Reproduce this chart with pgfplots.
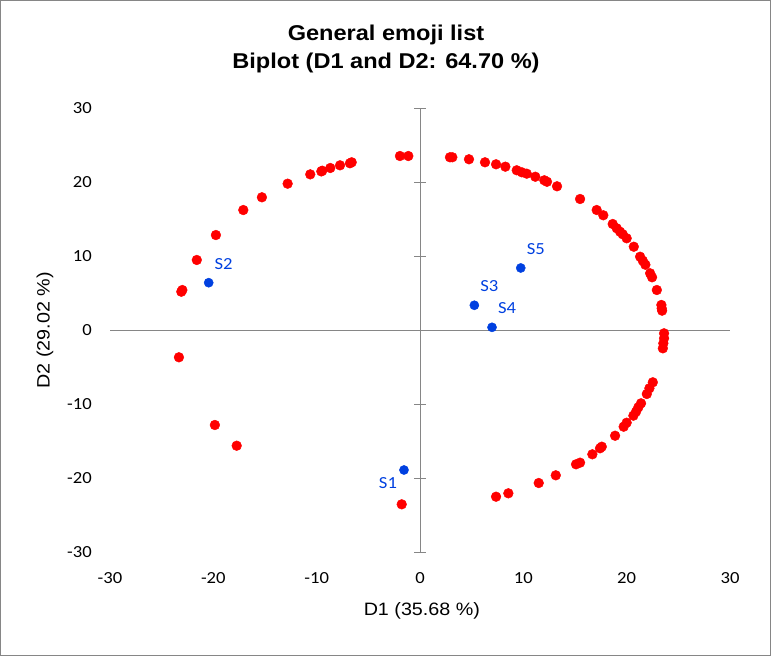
\documentclass[border=0pt]{standalone}
\usepackage{pgfplots}
\pgfplotsset{compat=1.18}
\usepackage{fontspec}
\setmainfont{Liberation Sans}[FakeStretch=1.1]
\newfontfamily\calfont{Carlito}[FakeStretch=1.1]

\definecolor{ptred}{RGB}{255,0,0}
\definecolor{ptblue}{RGB}{0,64,224}
\definecolor{axgray}{RGB}{134,134,134}

\begin{document}
\begin{tikzpicture}
\path[use as bounding box] (0,0) rectangle (771bp,656bp);
\draw[axgray, line width=1bp] (0.5bp,0.5bp) rectangle (770.5bp,655.5bp);

% Chart title
\node[font=\bfseries\fontsize{21.5}{28}\selectfont, align=center] at (386bp,607bp)
  {General emoji list\\Biplot (D1 and D2: 64.70 \%)};

\begin{axis}[
  at={(110bp,103.5bp)}, anchor=south west,
  scale only axis, width=620bp, height=444bp,
  xmin=-30, xmax=30, ymin=-30, ymax=30,
  clip=false,
  axis line style={draw=none},
  tick style={draw=none},
  xtick={-30,-20,...,30},
  ytick={-30,-20,...,30},
  xticklabels={-30,-20,-10,0,10,20,30},
  yticklabels={-30,-20,-10,0,10,20,30},
  ticklabel style={font=\calfont\fontsize{17}{17}\selectfont, inner sep=0pt},
  xticklabel style={anchor=center, yshift=-26bp},
  yticklabel style={anchor=east, xshift=-18bp},
  xlabel={D1 (35.68 \%)},
  ylabel={D2 (29.02 \%)},
  label style={font=\fontsize{18}{18}\selectfont},
  xlabel style={at={(axis description cs:0.503,-0.1318)}, anchor=center},
  ylabel style={at={(axis description cs:-0.1048,0.5)}, anchor=center},
]
% Axes through the origin, with cross ticks on the vertical one
\draw[axgray, line width=1bp] (axis cs:-30,0) -- (axis cs:30,0);
\draw[axgray, line width=1bp] (axis cs:0,-30) -- (axis cs:0,30);
\pgfplotsinvokeforeach{-30,-20,-10,0,10,20,30}{
  \draw[axgray, line width=1bp] ([xshift=-6bp]axis cs:0,#1) -- ([xshift=6bp]axis cs:0,#1);
}

% Variables (emoji)
\addplot[only marks, mark=*, mark size=4.9bp, color=ptred, mark options={draw=ptred, fill=ptred}]
  table[row sep=\\] {
x y\\
-1.94 23.58\\ -1.13 23.58\\ -6.61 22.73\\ -6.78 22.60\\ -7.74 22.32\\
-8.68 21.96\\ -9.46 21.59\\ -9.55 21.50\\ -10.62 21.10\\ -12.81 19.84\\
-15.30 18.00\\ -17.10 16.28\\ -19.75 12.90\\ -21.60 9.53\\ -23.00 5.47\\
-23.10 5.24\\ -23.33 -3.62\\ -19.85 -12.77\\ -17.74 -15.57\\ -1.77 -23.49\\
3.13 23.41\\ 2.90 23.41\\ 4.74 23.14\\ 6.29 22.73\\ 7.36 22.46\\
8.26 22.14\\ 9.36 21.65\\ 9.85 21.38\\ 10.33 21.19\\ 11.16 20.78\\
12.03 20.30\\ 12.29 20.10\\ 13.26 19.49\\ 15.49 17.77\\ 17.10 16.28\\
17.74 15.57\\ 18.65 14.39\\ 19.04 13.81\\ 19.36 13.35\\ 19.62 13.00\\
20.00 12.46\\ 20.69 11.32\\ 21.30 9.97\\ 21.56 9.43\\ 21.81 8.89\\
22.27 7.73\\ 22.46 7.19\\ 22.92 5.47\\ 23.36 3.45\\ 23.39 3.00\\
23.43 2.68\\ 23.62 -0.38\\ 23.62 -1.05\\ 23.55 -1.73\\ 23.50 -2.41\\
22.53 -7.00\\ 22.20 -7.81\\ 21.95 -8.58\\ 21.39 -9.84\\ 21.13 -10.38\\
20.91 -10.97\\ 20.65 -11.51\\ 20.00 -12.46\\ 19.71 -13.00\\ 18.88 -14.22\\
17.59 -15.70\\ 17.42 -15.92\\ 16.68 -16.73\\ 15.49 -17.86\\ 15.10 -18.08\\
13.14 -19.57\\ 11.49 -20.61\\ 8.55 -22.00\\ 7.36 -22.46\\
};

% Observations (S2 to S5, labelled above right)
\addplot[only marks, mark=*, mark size=4.6bp, color=ptblue, mark options={draw=ptblue, fill=ptblue},
  point meta=explicit symbolic, nodes near coords,
  every node near coord/.append style={anchor=center, inner sep=0pt, xshift=15bp, yshift=19bp,
    font=\calfont\fontsize{17}{17}\selectfont, text=ptblue}]
  table[row sep=\\, meta=lab] {
x y lab\\
-20.45 6.46 S2\\
5.26 3.41 S3\\
6.97 0.43 S4\\
9.75 8.45 S5\\
};

% Observation S1, labelled below left
\addplot[only marks, mark=*, mark size=4.6bp, color=ptblue, mark options={draw=ptblue, fill=ptblue},
  point meta=explicit symbolic, nodes near coords,
  every node near coord/.append style={anchor=center, inner sep=0pt, xshift=-16bp, yshift=-13bp,
    font=\calfont\fontsize{17}{17}\selectfont, text=ptblue}]
  table[row sep=\\, meta=lab] {
x y lab\\
-1.55 -18.85 S1\\
};
\end{axis}
\end{tikzpicture}
\end{document}
